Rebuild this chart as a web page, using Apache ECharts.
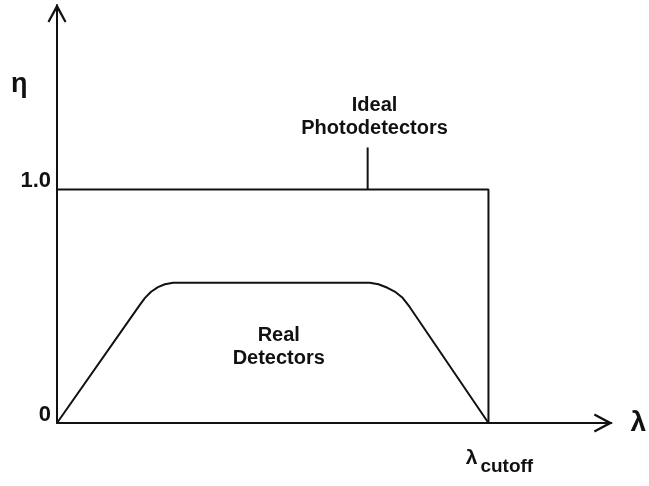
<!DOCTYPE html>
<html>
<head>
<meta charset="utf-8">
<script src="https://cdn.jsdelivr.net/npm/echarts@6/dist/echarts.min.js"></script>
<style>
  html, body { margin: 0; padding: 0; background: #fff; }
  #container { width: 649px; height: 486px; }
</style>
</head>
<body>
<div id="container"></div>
<script>
// 数据 (λ 以 λcutoff 归一化, η 为量子效率)
var idealCurve = [[0, 1], [1, 1], [1, 0]];
var realCurve = [
  [0, 0], [0.192, 0.506], [0.204, 0.536], [0.218, 0.562], [0.234, 0.582],
  [0.250, 0.594], [0.269, 0.601], [0.725, 0.601], [0.745, 0.594], [0.766, 0.579],
  [0.785, 0.560], [0.801, 0.536], [0.817, 0.498], [1, 0]
];
var pointerLine = [[0.72, 1.18], [0.72, 1.0]];
var annotations = [
  { value: [0.736, 1.311], name: 'Ideal\nPhotodetectors' },
  { value: [0.514, 0.324], name: 'Real\nDetectors' }
];
var yTickLabels = { 0: '0', 1: '1.0' };

var ink = '#111';
var font = '"Liberation Sans", Arial, sans-serif';
// 空心箭头 (朝上, 由库旋转)
var arrowPath = 'path://M9,0 L11,0 L20,17 L18,18 L10,3.5 L2,18 L0,17 Z';

var dom = document.getElementById('container');
var myChart = echarts.init(dom);

var option = {
  animation: false,
  backgroundColor: '#fff',
  grid: { left: 57, right: 37, top: 5, bottom: 63 },
  xAxis: {
    type: 'value',
    min: 0,
    max: 1.285,
    interval: 1,
    name: 'λ',
    nameLocation: 'end',
    nameGap: 19,
    nameTextStyle: { fontFamily: font, fontSize: 28, fontWeight: 'bold', color: ink },
    splitLine: { show: false },
    axisTick: { show: false },
    axisLine: {
      lineStyle: { color: ink, width: 2 },
      symbol: ['none', arrowPath],
      symbolSize: [19, 19],
      symbolOffset: [0, -9]
    },
    axisLabel: {
      margin: 25,
      formatter: function (v) { return v === 1 ? '{l|λ}{s|cutoff}' : ''; },
      rich: {
        l: { fontFamily: font, fontSize: 21, fontWeight: 'bold', color: ink,
             verticalAlign: 'top', lineHeight: 20, padding: [0, 0, 0, 22] },
        s: { fontFamily: font, fontSize: 19, fontWeight: 'bold', color: ink,
             verticalAlign: 'bottom', lineHeight: 28, padding: [0, 0, 0, 3] }
      }
    }
  },
  yAxis: {
    type: 'value',
    min: 0,
    max: 1.79,
    interval: 1,
    splitLine: { show: false },
    axisTick: { show: false },
    axisLine: {
      lineStyle: { color: ink, width: 2 },
      symbol: ['none', arrowPath],
      symbolSize: [19, 19],
      symbolOffset: [0, -9]
    },
    axisLabel: {
      margin: 6,
      fontFamily: font,
      fontSize: 22,
      fontWeight: 'bold',
      color: ink,
      verticalAlign: 'bottom',
      lineHeight: 17,
      formatter: function (v) { return yTickLabels[v] !== undefined ? yTickLabels[v] : ''; }
    }
  },
  graphic: [{
    type: 'text',
    left: 11,
    top: 71,
    style: { text: 'η', fontFamily: font, fontSize: 27, fontWeight: 'bold', fill: ink }
  }],
  series: [
    {
      name: 'Ideal Photodetectors',
      type: 'line',
      data: idealCurve,
      symbol: 'none',
      lineStyle: { color: ink, width: 2 }
    },
    {
      name: 'Real Detectors',
      type: 'line',
      data: realCurve,
      symbol: 'none',
      lineStyle: { color: ink, width: 2 }
    },
    {
      name: 'pointer',
      type: 'line',
      data: pointerLine,
      symbol: 'none',
      lineStyle: { color: ink, width: 2 }
    },
    {
      name: 'labels',
      type: 'scatter',
      symbolSize: 0,
      itemStyle: { opacity: 1 },
      data: annotations,
      label: {
        show: true,
        position: 'inside',
        formatter: function (p) { return p.name; },
        fontFamily: font,
        fontSize: 20,
        fontWeight: 'bold',
        lineHeight: 23,
        color: ink,
        align: 'center'
      }
    }
  ]
};
myChart.setOption(option);
</script>
</body>
</html>
